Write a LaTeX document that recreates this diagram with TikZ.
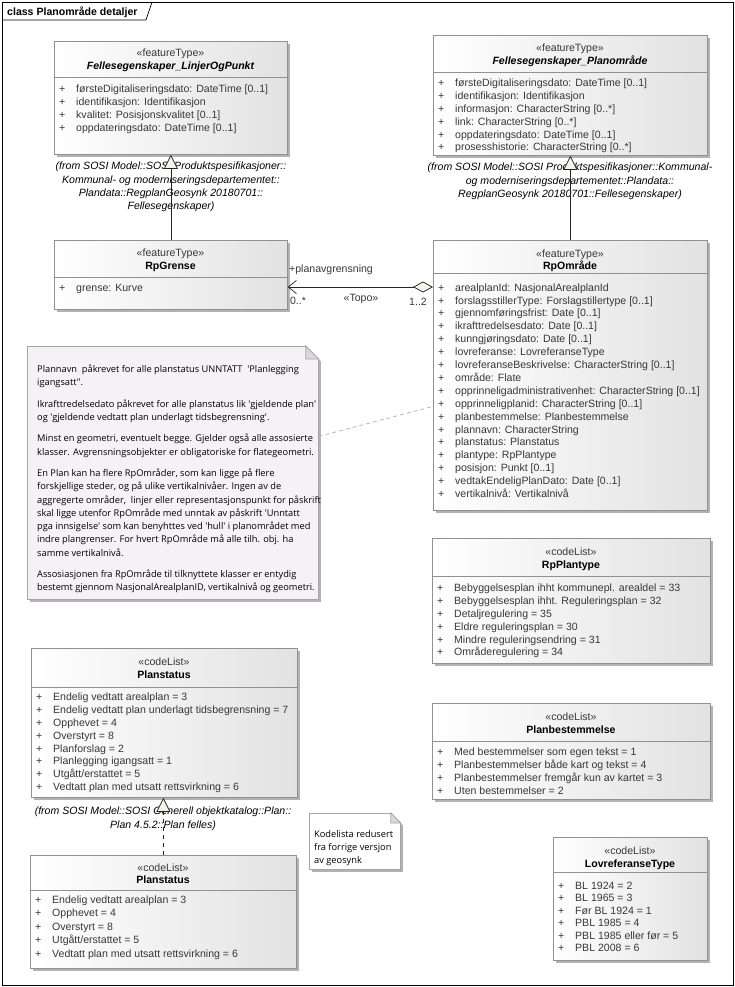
\documentclass[tikz,border=0pt]{standalone}
\usepackage{fontspec}
\setmainfont{Liberation Sans}
\newfontfamily\notefont{Open Sans}
\usetikzlibrary{arrows.meta,shadows}

\definecolor{clsline}{RGB}{145,145,145}
\definecolor{clsright}{RGB}{226,226,226}
\definecolor{notefill}{RGB}{246,241,246}
\definecolor{notebord}{RGB}{165,165,165}
\definecolor{tipfill}{RGB}{248,242,232}
\definecolor{txtgray}{RGB}{55,55,55}

\newcommand{\pubmark}{\makebox[17bp][l]{+}}

\begin{document}
\begin{tikzpicture}[
        x=1bp, y=-1bp,
        every node/.style={font=\fontsize{10.6}{13}\selectfont, inner sep=0pt},
        cls/.style={draw=clsline, line width=0.75bp, anchor=north west, left color=white, right color=clsright,
            drop shadow={shadow xshift=3bp, shadow yshift=-3bp, fill=black, opacity=0.3}},
        stereo/.style={anchor=base, text=txtgray},
        cname/.style={anchor=base, font=\fontsize{10.6}{13}\selectfont\bfseries},
        aname/.style={anchor=base, font=\fontsize{10.6}{13}\selectfont\bfseries\itshape},
        attrs/.style={anchor=north west, align=left, text=txtgray},
        sepline/.style={draw=clsline, line width=0.75bp},
        fromtxt/.style={anchor=north, align=center, font=\fontsize{10.6}{13.3}\selectfont\itshape},
        note/.style={draw=notebord, line width=0.75bp, fill=notefill, anchor=north west,
            drop shadow={shadow xshift=3bp, shadow yshift=-3bp, fill=black, opacity=0.3}},
        notetxt/.style={anchor=north west, align=left, font=\notefont\fontsize{9.3}{13.3}\selectfont},
        gen/.style={draw=black!85, line width=0.75bp, -{Triangle[fill=tipfill, length=14bp, width=14bp]}},
        assoc/.style={draw=black!85, line width=0.75bp,
            {Diamond[fill=tipfill, length=20bp, width=11bp]}-{Straight Barb[length=8bp, width=13bp]}},
        notelink/.style={draw=gray!60, line width=0.75bp, dash pattern=on 4bp off 3bp},
        lbl/.style={anchor=base, text=txtgray}
    ]
    \useasboundingbox (0,0) rectangle (735,987);

    % Ramme
    \draw[line width=0.75bp] (2,2) rectangle (733,985);
    \draw[line width=0.75bp] (2,20) -- (146,20) -- (152,2);
    \node[anchor=base west, font=\fontsize{10.6}{13}\selectfont\bfseries] (title) at (7,15) {class Planområde detaljer};

    % Fellesegenskaper_LinjerOgPunkt
    \node[cls, minimum width=233bp, minimum height=113bp] (linjer) at (54,41) {};
    \node[stereo] (linjerS) at (170.5,56) {«featureType»};
    \node[aname] (linjerN) at (170.5,69) {Fellesegenskaper\_LinjerOgPunkt};
    \draw[sepline] (linjer.north west) ++(0,36) -- ++(233,0);
    \node[attrs] (linjerA) at (59,84) {\rule{0pt}{8bp}\pubmark førsteDigitaliseringsdato: DateTime [0..1]\\
        \pubmark identifikasjon: Identifikasjon\\
        \pubmark kvalitet: Posisjonskvalitet [0..1]\\
        \pubmark oppdateringsdato: DateTime [0..1]};
    \node[fromtxt] (linjerF) at (171,162) {(from SOSI Model::SOSI Produktspesifikasjoner::\\
        Kommunal- og moderniseringsdepartementet::\\
        Plandata::RegplanGeosynk 20180701::\\
        Fellesegenskaper)};

    % Fellesegenskaper_Planområde
    \node[cls, minimum width=274bp, minimum height=120bp] (felles) at (433,35) {};
    \node[stereo] (fellesS) at (570,51) {«featureType»};
    \node[aname] (fellesN) at (570,64) {Fellesegenskaper\_Planområde};
    \draw[sepline] (felles.north west) ++(0,37) -- ++(274,0);
    \node[attrs] (fellesA) at (438,78) {\rule{0pt}{8bp}\pubmark førsteDigitaliseringsdato: DateTime [0..1]\\
        \pubmark identifikasjon: Identifikasjon\\
        \pubmark informasjon: CharacterString [0..*]\\
        \pubmark link: CharacterString [0..*]\\
        \pubmark oppdateringsdato: DateTime [0..1]\\
        \pubmark prosesshistorie: CharacterString [0..*]};
    \node[fromtxt] (fellesF) at (570,163) {(from SOSI Model::SOSI Produktspesifikasjoner::Kommunal-\\
        og moderniseringsdepartementet::Plandata::\\
        RegplanGeosynk 20180701::Fellesegenskaper)};

    % RpGrense
    \node[cls, minimum width=233bp, minimum height=69bp] (grense) at (54,240) {};
    \node[stereo] (grenseS) at (170.5,256) {«featureType»};
    \node[cname] (grenseN) at (170.5,269) {RpGrense};
    \draw[sepline] (grense.north west) ++(0,37) -- ++(233,0);
    \node[attrs] (grenseA) at (59,283) {\rule{0pt}{8bp}\pubmark grense: Kurve};

    % RpOmråde
    \node[cls, minimum width=274bp, minimum height=270bp] (omraade) at (433,240) {};
    \node[stereo] (omraadeS) at (570,257) {«featureType»};
    \node[cname] (omraadeN) at (570,269) {RpOmråde};
    \draw[sepline] (omraade.north west) ++(0,33) -- ++(274,0);
    \node[attrs, font=\fontsize{10.6}{12.94}\selectfont] (omraadeA) at (438,283) {\rule{0pt}{8bp}\pubmark arealplanId: NasjonalArealplanId\\
        \pubmark forslagsstillerType: Forslagstillertype [0..1]\\
        \pubmark gjennomføringsfrist: Date [0..1]\\
        \pubmark ikrafttredelsesdato: Date [0..1]\\
        \pubmark kunngjøringsdato: Date [0..1]\\
        \pubmark lovreferanse: LovreferanseType\\
        \pubmark lovreferanseBeskrivelse: CharacterString [0..1]\\
        \pubmark område: Flate\\
        \pubmark opprinneligadministrativenhet: CharacterString [0..1]\\
        \pubmark opprinneligplanid: CharacterString [0..1]\\
        \pubmark planbestemmelse: Planbestemmelse\\
        \pubmark plannavn: CharacterString\\
        \pubmark planstatus: Planstatus\\
        \pubmark plantype: RpPlantype\\
        \pubmark posisjon: Punkt [0..1]\\
        \pubmark vedtakEndeligPlanDato: Date [0..1]\\
        \pubmark vertikalnivå: Vertikalnivå};

    % RpPlantype
    \node[cls, minimum width=278bp, minimum height=125bp] (plantype) at (432,538) {};
    \node[stereo] (plantypeS) at (571,555) {«codeList»};
    \node[cname] (plantypeN) at (571,568) {RpPlantype};
    \draw[sepline] (plantype.north west) ++(0,38) -- ++(278,0);
    \node[attrs] (plantypeA) at (437,583) {\rule{0pt}{8bp}\pubmark Bebyggelsesplan ihht kommunepl. arealdel = 33\\
        \pubmark Bebyggelsesplan ihht. Reguleringsplan = 32\\
        \pubmark Detaljregulering = 35\\
        \pubmark Eldre reguleringsplan = 30\\
        \pubmark Mindre reguleringsendring = 31\\
        \pubmark Områderegulering = 34};

    % Planbestemmelse
    \node[cls, minimum width=278bp, minimum height=96bp] (planbest) at (432,703) {};
    \node[stereo] (planbestS) at (571,720) {«codeList»};
    \node[cname] (planbestN) at (571,733) {Planbestemmelse};
    \draw[sepline] (planbest.north west) ++(0,38) -- ++(278,0);
    \node[attrs] (planbestA) at (437,747) {\rule{0pt}{8bp}\pubmark Med bestemmelser som egen tekst = 1\\
        \pubmark Planbestemmelser både kart og tekst = 4\\
        \pubmark Planbestemmelser fremgår kun av kartet = 3\\
        \pubmark Uten bestemmelser = 2};

    % Planstatus (felles)
    \node[cls, minimum width=266bp, minimum height=149bp] (pstat) at (31,648) {};
    \node[stereo] (pstatS) at (164,665) {«codeList»};
    \node[cname] (pstatN) at (164,678) {Planstatus};
    \draw[sepline] (pstat.north west) ++(0,39) -- ++(266,0);
    \node[attrs] (pstatA) at (36,692) {\rule{0pt}{8bp}\pubmark Endelig vedtatt arealplan = 3\\
        \pubmark Endelig vedtatt plan underlagt tidsbegrensning = 7\\
        \pubmark Opphevet = 4\\
        \pubmark Overstyrt = 8\\
        \pubmark Planforslag = 2\\
        \pubmark Planlegging igangsatt = 1\\
        \pubmark Utgått/erstattet = 5\\
        \pubmark Vedtatt plan med utsatt rettsvirkning = 6};
    \node[fromtxt] (pstatF) at (163,807) {(from SOSI Model::SOSI Generell objektkatalog::Plan::\\
        Plan 4.5.2::Plan felles)};

    % Planstatus (geosynk)
    \node[cls, minimum width=266bp, minimum height=113bp] (pstatB) at (30,855) {};
    \node[stereo] (pstatBS) at (163,871) {«codeList»};
    \node[cname] (pstatBN) at (163,883) {Planstatus};
    \draw[sepline] (pstatB.north west) ++(0,35) -- ++(266,0);
    \node[attrs, font=\fontsize{10.6}{13.5}\selectfont] (pstatBA) at (35,895) {\rule{0pt}{8bp}\pubmark Endelig vedtatt arealplan = 3\\
        \pubmark Opphevet = 4\\
        \pubmark Overstyrt = 8\\
        \pubmark Utgått/erstattet = 5\\
        \pubmark Vedtatt plan med utsatt rettsvirkning = 6};

    % LovreferanseType
    \node[cls, minimum width=154bp, minimum height=123bp] (lovref) at (553,837) {};
    \node[stereo] (lovrefS) at (630,854) {«codeList»};
    \node[cname] (lovrefN) at (630,867) {LovreferanseType};
    \draw[sepline] (lovref.north west) ++(0,35) -- ++(154,0);
    \node[attrs, font=\fontsize{10.6}{12.6}\selectfont] (lovrefA) at (558,881) {\rule{0pt}{8bp}\pubmark BL 1924 = 2\\
        \pubmark BL 1965 = 3\\
        \pubmark Før BL 1924 = 1\\
        \pubmark PBL 1985 = 4\\
        \pubmark PBL 1985 eller før = 5\\
        \pubmark PBL 2008 = 6};

    % Notater
    \node[note, minimum width=291bp, minimum height=253bp] (note1) at (27,346) {};
    \fill[white] ([xshift=-13bp,yshift=1bp]note1.north east) -- ([xshift=4bp,yshift=1bp]note1.north east) -- ([xshift=4bp,yshift=-17bp]note1.north east) -- cycle;
    \filldraw[fill=gray!30, draw=notebord, line width=0.75bp] ([xshift=-13bp]note1.north east) -- ([xshift=-13bp,yshift=-13bp]note1.north east) -- ([yshift=-13bp]note1.north east) -- cycle;
    \node[notetxt] (note1T) at (37,364) {\rule{0pt}{8bp}Plannavn\ \ påkrevet for alle planstatus UNNTATT\ \ \textquotesingle Planlegging\\
        igangsatt".\\[8.3bp]
        Ikrafttredelsedato påkrevet for alle planstatus lik \textquotesingle gjeldende plan\textquotesingle\\
        og \textquotesingle gjeldende vedtatt plan underlagt tidsbegrensning\textquotesingle.\\[8.3bp]
        Minst en geometri, eventuelt begge. Gjelder også alle assosierte\\
        klasser. Avgrensningsobjekter er obligatoriske for flategeometri.\\[8.3bp]
        En Plan kan ha flere RpOmråder, som kan ligge på flere\\
        forskjellige steder, og på ulike vertikalnivåer. Ingen av de\\
        aggregerte områder,\ \ linjer eller representasjonspunkt for påskrift\\
        skal ligge utenfor RpOmråde med unntak av påskrift \textquotesingle Unntatt\\
        pga innsigelse\textquotesingle{} som kan benyhttes ved \textquotesingle hull\textquotesingle{} i planområdet med\\
        indre plangrenser. For hvert RpOmråde må alle tilh. obj. ha\\
        samme vertikalnivå.\\[8.3bp]
        Assosiasjonen fra RpOmråde til tilknyttete klasser er entydig\\
        bestemt gjennom NasjonalArealplanID, vertikalnivå og geometri.};

    \node[note, fill=white, minimum width=91bp, minimum height=56bp] (note2) at (309,813) {};
    \fill[white] ([xshift=-10bp,yshift=1bp]note2.north east) -- ([xshift=4bp,yshift=1bp]note2.north east) -- ([xshift=4bp,yshift=-14bp]note2.north east) -- cycle;
    \filldraw[fill=gray!30, draw=notebord, line width=0.75bp] ([xshift=-10bp]note2.north east) -- ([xshift=-10bp,yshift=-10bp]note2.north east) -- ([yshift=-10bp]note2.north east) -- cycle;
    \node[notetxt] (note2T) at (314,829) {\rule{0pt}{8bp}Kodelista redusert\\
        fra forrige versjon\\
        av geosynk};

    % Generaliseringer
    \draw[gen] (grense) -- (linjer);
    \draw[gen] (omraade) -- (felles);
    \draw[gen, dash pattern=on 4bp off 4bp] (pstatB.north) -- (pstatB.north |- pstat.south);

    % Assosiasjon
    \coordinate (topoY) at (0,287);
    \draw[assoc] (omraade.west |- topoY) -- (grense.east |- topoY);
    \node[lbl, anchor=base west] (rolle) at (289,272) {+planavgrensning};
    \node[lbl] (multA) at (298,304) {0..*};
    \node[lbl] (topo) at (361,301) {«Topo»};
    \node[lbl] (multB) at (418,305) {1..2};

    % Notatlenke
    \draw[notelink] ([yshift=36.5bp]note1.east) -- ([yshift=-31bp]omraade.west);

\end{tikzpicture}
\end{document}
